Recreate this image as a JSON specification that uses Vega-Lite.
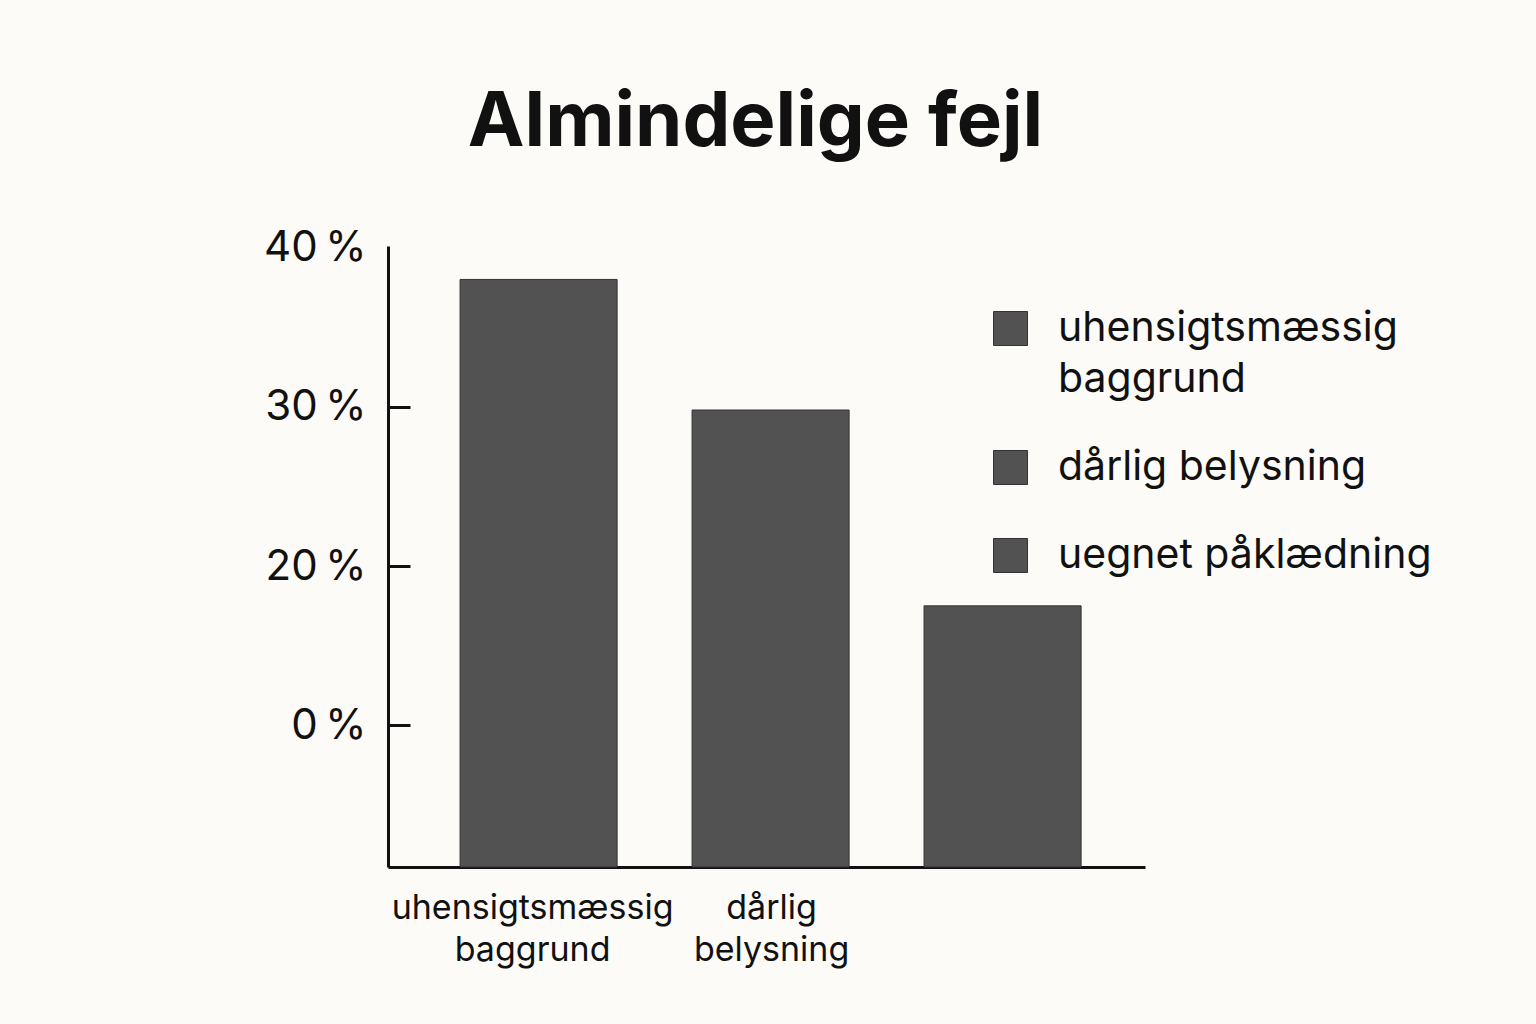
{
  "$schema": "https://vega.github.io/schema/vega-lite/v6.json",
  "autosize": "none",
  "width": 757,
  "height": 621,
  "padding": {"left": 388, "top": 246, "right": 391, "bottom": 157},
  "background": "#fcfbf7",
  "title": {
    "text": "Almindelige fejl",
    "font": "Inter",
    "fontSize": 76,
    "fontWeight": "bold",
    "color": "#111111",
    "anchor": "middle",
    "dx": -11,
    "offset": 65
  },
  "data": {
    "values": [
      {"fejl": "uhensigtsmæssig baggrund", "andel": 38.0},
      {"fejl": "dårlig belysning", "andel": 29.8},
      {"fejl": "uegnet påklædning", "andel": 17.5}
    ]
  },
  "mark": {"type": "bar", "stroke": "#333333", "strokeWidth": 1},
  "encoding": {
    "x": {
      "field": "fejl",
      "type": "nominal",
      "sort": null,
      "scale": {"paddingInner": 0.323, "paddingOuter": 0.293, "align": 0.53},
      "axis": {
        "title": null,
        "labelAngle": 0,
        "labelFont": "Inter",
        "labelFontSize": 34,
        "labelColor": "#111111",
        "labelPadding": 24,
        "labelLineHeight": 42,
        "labelLimit": 500,
        "labelOverlap": false,
        "labelOffset": {"condition": {"test": "datum.value == 'uhensigtsmæssig baggrund'", "value": -6}, "value": 1},
        "ticks": false,
        "domainColor": "#111111",
        "domainWidth": 3,
        "labelExpr": "datum.value == 'uegnet påklædning' ? '' : split(datum.value, ' ')"
      }
    },
    "y": {
      "field": "andel",
      "type": "quantitative",
      "scale": {"domain": [1.1, 40.1], "zero": false, "nice": false, "clamp": true},
      "axis": {
        "title": null,
        "values": [10, 20, 30, 40],
        "labelExpr": "datum.value == 10 ? '0\u2009%' : datum.value + '\u2009%'",
        "labelFont": "Inter",
        "labelFontSize": 42,
        "labelColor": "#111111",
        "labelPadding": 44,
        "tickSize": -22,
        "tickWidth": 3,
        "tickColor": "#111111",
        "tickOpacity": {"condition": {"test": "datum.value == 40", "value": 0}, "value": 1},
        "domainColor": "#111111",
        "domainWidth": 3,
        "grid": false
      }
    },
    "color": {
      "field": "fejl",
      "type": "nominal",
      "sort": null,
      "scale": {"range": ["#525252", "#525252", "#525252"]},
      "legend": {
        "title": null,
        "orient": "none",
        "legendX": 602,
        "legendY": 62,
        "padding": 0,
        "symbolType": "square",
        "symbolSize": 1156,
        "symbolStrokeColor": "#333333",
        "symbolStrokeWidth": 1,
        "symbolOpacity": 1,
        "labelFont": "Inter",
        "labelFontSize": 41,
        "labelColor": "#111111",
        "labelOffset": 27,
        "labelLimit": 600,
        "rowPadding": 46,
        "labelExpr": "datum.label == 'uhensigtsmæssig baggrund' ? ['uhensigtsmæssig', 'baggrund'] : datum.label"
      }
    }
  },
  "config": {"view": {"stroke": null}, "style": {"guide-label": {"lineHeight": 51}}}
}
